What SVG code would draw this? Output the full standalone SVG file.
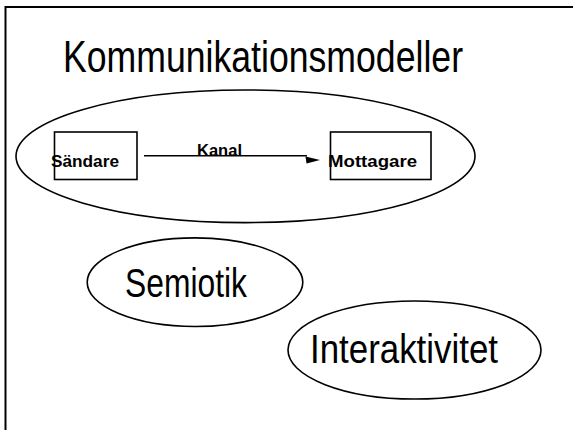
<svg xmlns="http://www.w3.org/2000/svg" width="573" height="430" viewBox="0 0 573 430">
<style>
.shape{fill:none;stroke:#000;stroke-width:1.6}
.big{font-family:"Liberation Sans Narrow","Liberation Sans",Arial,sans-serif;fill:#000}
.small{font-family:"Liberation Sans",Arial,sans-serif;font-weight:bold;font-size:17px;fill:#000}
</style>
<rect x="0" y="0" width="573" height="430" fill="#fff"/>
<rect x="5.5" y="7" width="620" height="500" fill="none" stroke="#000" stroke-width="2"/>
<text class="big" x="63" y="72" font-size="44" textLength="400" lengthAdjust="spacingAndGlyphs">Kommunikationsmodeller</text>
<g id="kanalmodell">
<ellipse class="shape" cx="245.5" cy="156.3" rx="229.5" ry="66.3"/>
</g>
<g id="sandare">
<rect class="shape" x="54.5" y="132" width="82.5" height="47.5"/>
<text class="small" x="51" y="167" textLength="68" lengthAdjust="spacingAndGlyphs">Sändare</text>
</g>
<g id="mottagare">
<rect class="shape" x="330.5" y="132" width="100.5" height="47.5"/>
<text class="small" x="328" y="167" textLength="89" lengthAdjust="spacingAndGlyphs">Mottagare</text>
</g>
<g id="connectors">
<line x1="144" y1="155.8" x2="307" y2="155.8" stroke="#000" stroke-width="1.6"/>
<polygon points="305.5,156.5 320,160 306.5,163.5" fill="#000"/>
<text class="small" x="197" y="155.5" textLength="45" lengthAdjust="spacingAndGlyphs">Kanal</text>
</g>
<g id="semiotik">
<ellipse class="shape" cx="195" cy="282.2" rx="107.8" ry="44.3"/>
<text class="big" x="125" y="297" font-size="40" textLength="122" lengthAdjust="spacingAndGlyphs">Semiotik</text>
</g>
<g id="interaktivitet">
<ellipse class="shape" cx="414.5" cy="350" rx="126.5" ry="49"/>
<text class="big" x="310" y="363" font-size="40" textLength="188" lengthAdjust="spacingAndGlyphs">Interaktivitet</text>
</g>
</svg>
